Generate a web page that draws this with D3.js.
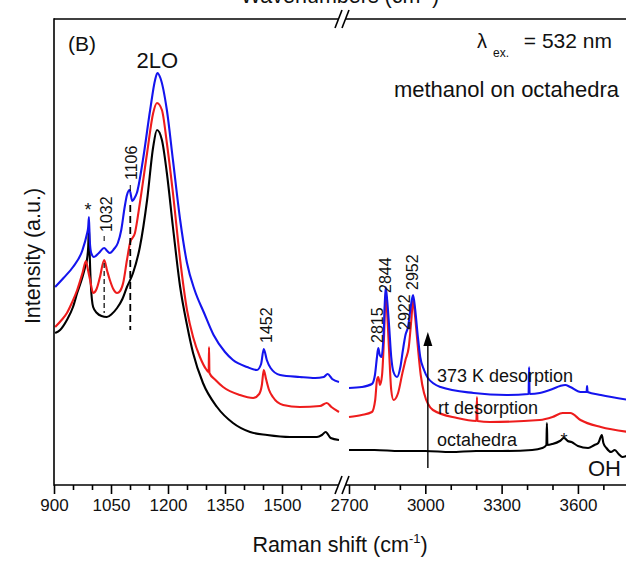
<!DOCTYPE html>
<html>
<head>
<meta charset="utf-8">
<script src="https://cdn.jsdelivr.net/npm/d3@7"></script>
<style>
  html, body { margin: 0; padding: 0; background: #fff; }
  svg { display: block; font-family: "Liberation Sans", Arial, Helvetica, sans-serif; }
</style>
</head>
<body>
<svg id="chart" width="626" height="561"></svg>
<script>
// ---- axis ticks (cm-1) ----
const lowTicks  = [900, 1050, 1200, 1350, 1500];
const lowMinor  = [950, 1000, 1100, 1150, 1250, 1300, 1400, 1450, 1550, 1600];
const highTicks = [2700, 3000, 3300, 3600];
const highMinor = [2800, 2900, 3100, 3200, 3400, 3500, 3700, 3800];

// ---- spectra: [Raman shift (cm-1), intensity (a.u.)] ----
// bare octahedra
const octahedraLow = [[903,152],[916,155],[934,165],[950,178],[961,192],[975,208],[982,218],[987,226],[990,238],[992,258],[994,230],[997,200],[1003,178],[1013,172],[1025,169],[1039,168],[1052,171],[1066,177],[1080,186],[1092,198],[1108,212],[1126,238],[1145,285],[1161,338],[1171,355],[1184,345],[1197,312],[1213,258],[1232,198],[1250,160],[1266,132],[1292,102],[1329,78],[1371,62],[1416,53],[1461,50],[1521,48],[1592,48],[1605,50],[1615,53],[1628,47],[1650,45]];
const octahedraHigh = [[2700,35],[2800,35],[2900,34],[3000,34],[3100,33],[3200,34],[3300,34],[3420,35],[3460,37],[3476,40],[3478,62],[3480,40],[3500,41],[3529,44],[3545,47],[3560,44],[3575,43],[3600,39],[3640,37],[3665,40],[3680,42],[3694,50],[3700,42],[3712,37],[3730,33],[3745,35],[3760,31],[3775,28],[3800,30]];

// methanol adsorbed, desorbed at room temperature
const rtLow = [[903,158],[920,165],[934,172],[948,183],[961,195],[975,212],[984,224],[990,214],[995,205],[1003,192],[1012,196],[1021,208],[1032,225],[1040,214],[1047,205],[1056,196],[1066,192],[1074,194],[1082,202],[1092,225],[1100,242],[1113,252],[1126,282],[1145,332],[1161,372],[1171,382],[1184,375],[1197,342],[1213,292],[1232,225],[1250,175],[1266,148],[1284,128],[1300,116],[1307,113],[1308,138],[1309,112],[1325,105],[1345,98],[1389,90],[1424,87],[1440,91],[1447,100],[1452,115],[1458,106],[1466,95],[1476,88],[1503,80],[1547,78],[1600,79],[1618,82],[1630,78],[1650,73]];
const rtHigh = [[2700,68],[2750,70],[2790,73],[2803,85],[2810,105],[2815,108],[2822,100],[2830,110],[2838,150],[2844,192],[2850,172],[2858,132],[2866,95],[2875,85],[2893,92],[2910,112],[2922,125],[2935,138],[2945,165],[2952,185],[2960,168],[2970,140],[2982,110],[2995,92],[3030,75],[3125,67],[3201,64],[3203,88],[3205,64],[3254,63],[3450,65],[3500,68],[3540,72],[3570,72],[3610,65],[3690,58],[3800,53]];

// methanol adsorbed, desorbed at 373 K
const k373Low = [[903,198],[925,207],[950,218],[975,235],[986,250],[990,258],[992,268],[994,245],[998,232],[1005,228],[1018,232],[1032,237],[1040,234],[1047,232],[1058,236],[1068,242],[1077,255],[1086,278],[1092,290],[1099,295],[1106,284],[1112,287],[1118,292],[1134,325],[1153,375],[1166,405],[1172,412],[1180,407],[1197,375],[1213,325],[1232,265],[1250,222],[1270,195],[1295,172],[1320,150],[1350,133],[1371,125],[1408,118],[1434,115],[1445,121],[1452,136],[1460,125],[1470,117],[1495,110],[1547,108],[1587,107],[1610,108],[1620,111],[1632,106],[1650,103]];
const k373High = [[2700,97],[2750,98],[2790,101],[2802,110],[2810,128],[2815,137],[2821,130],[2828,128],[2836,150],[2844,198],[2850,185],[2858,158],[2866,128],[2875,113],[2889,108],[2902,118],[2912,135],[2922,150],[2932,158],[2945,182],[2952,190],[2960,176],[2970,150],[2980,128],[2995,115],[3010,107],[3060,98],[3190,92],[3320,90],[3406,91],[3408,118],[3410,91],[3450,92],[3500,96],[3530,99],[3550,100],[3570,98],[3610,93],[3634,93],[3636,99],[3638,93],[3690,90],[3800,85]];

// ---- band labels ----
const lowBands  = ["1032", "1106", "1452"];
const highBands = ["2815", "2844", "2922", "2952"];
const seriesNames = ["373 K desorption", "rt desorption", "octahedra"];

// ---- layout ----
const svg = d3.select("#chart");
const plotLeft = 54, plotBottom = 485, plotTop = 19;
const breakL = 339, breakR = 346;

const xLow  = d3.scaleLinear().domain([900, 1650]).range([plotLeft, breakL]);
const xHigh = d3.scaleLinear().domain([2700, 3800]).range([349, 628.8]);
const y     = d3.scaleLinear().domain([0, 466]).range([plotBottom, plotTop]);

const defs = svg.append("defs");
defs.append("clipPath").attr("id", "clipLow")
  .append("rect").attr("x", plotLeft).attr("y", plotTop).attr("width", breakL - plotLeft + 1).attr("height", plotBottom - plotTop);
defs.append("clipPath").attr("id", "clipHigh")
  .append("rect").attr("x", breakR).attr("y", plotTop).attr("width", 700).attr("height", plotBottom - plotTop);

const lineLow  = d3.line().x(d => xLow(d[0])).y(d => y(d[1])).curve(d3.curveMonotoneX);
const lineHigh = d3.line().x(d => xHigh(d[0])).y(d => y(d[1])).curve(d3.curveMonotoneX);

const series = [
  { low: octahedraLow, high: octahedraHigh, color: "#000000" },
  { low: rtLow,        high: rtHigh,        color: "#ee1c1c" },
  { low: k373Low,      high: k373High,      color: "#1414ee" }
];

const gLow  = svg.append("g").attr("clip-path", "url(#clipLow)");
const gHigh = svg.append("g").attr("clip-path", "url(#clipHigh)");
series.forEach(s => {
  gLow.append("path").attr("d", lineLow(s.low))
    .attr("fill", "none").attr("stroke", s.color).attr("stroke-width", 2.1).attr("stroke-linejoin", "round");
  gHigh.append("path").attr("d", lineHigh(s.high))
    .attr("fill", "none").attr("stroke", s.color).attr("stroke-width", 2.1).attr("stroke-linejoin", "round");
});

// ---- frame and broken axes ----
const frame = svg.append("g").attr("stroke", "#000").attr("stroke-width", 1.6).attr("fill", "none");
frame.append("line").attr("x1", plotLeft).attr("x2", plotLeft).attr("y1", plotTop - 0.8).attr("y2", plotBottom + 0.8);
[plotTop, plotBottom].forEach(yy => {
  frame.append("line").attr("x1", plotLeft).attr("x2", breakL).attr("y1", yy).attr("y2", yy);
  frame.append("line").attr("x1", breakR).attr("x2", 640).attr("y1", yy).attr("y2", yy);
  // break marks
  frame.append("line").attr("x1", breakL - 4).attr("y1", yy + 9).attr("x2", breakL + 3).attr("y2", yy - 9);
  frame.append("line").attr("x1", breakR - 4).attr("y1", yy + 9).attr("x2", breakR + 3).attr("y2", yy - 9);
});

function drawAxis(scale, major, minor) {
  const gMaj = svg.append("g").attr("transform", `translate(0,${plotBottom})`)
    .call(d3.axisBottom(scale).tickValues(major).tickSize(9).tickPadding(5).tickFormat(d3.format("d")));
  gMaj.select(".domain").remove();
  gMaj.selectAll(".tick line").attr("stroke", "#000").attr("stroke-width", 1.6);
  gMaj.selectAll(".tick text").attr("font-size", 17).attr("font-family", "Liberation Sans, Arial, sans-serif").attr("fill", "#111");
  const gMin = svg.append("g").attr("transform", `translate(0,${plotBottom})`)
    .call(d3.axisBottom(scale).tickValues(minor).tickSize(5).tickFormat(""));
  gMin.select(".domain").remove();
  gMin.selectAll(".tick line").attr("stroke", "#000").attr("stroke-width", 1.6);
}
drawAxis(xLow, lowTicks, lowMinor);
drawAxis(xHigh, highTicks, highMinor);

// ---- axis titles ----
const xTitle = svg.append("text").attr("x", 340).attr("y", 552).attr("text-anchor", "middle")
  .attr("font-size", 21.5).attr("fill", "#111");
xTitle.append("tspan").text("Raman shift (cm");
xTitle.append("tspan").attr("font-size", 13).attr("dy", -9).text("-1");
xTitle.append("tspan").attr("dy", 9).text(")");

// upper-axis title, sitting mostly above the page edge
const topTitle = svg.append("text").attr("x", 340).attr("y", 3).attr("text-anchor", "middle")
  .attr("font-size", 21.5).attr("fill", "#111");
topTitle.append("tspan").text("Wavenumbers (cm");
topTitle.append("tspan").attr("font-size", 13).attr("dy", -9).text("-1");
topTitle.append("tspan").attr("dy", 9).text(")");

svg.append("text").attr("transform", "translate(40,256) rotate(-90)").attr("text-anchor", "middle")
  .attr("font-size", 21.5).attr("fill", "#111").text("Intensity (a.u.)");

// ---- panel annotations ----
svg.append("text").attr("x", 68).attr("y", 51).attr("font-size", 21).attr("fill", "#111").text("(B)");
svg.append("text").attr("x", xLow(1172)).attr("y", 68).attr("text-anchor", "middle").attr("font-size", 22).attr("fill", "#111").text("2LO");

svg.append("text").attr("x", 477).attr("y", 48).attr("font-size", 20).attr("fill", "#111").text("\u03bb");
svg.append("text").attr("x", 493).attr("y", 57).attr("font-size", 12).attr("fill", "#111").text("ex.");
svg.append("text").attr("x", 612).attr("y", 48).attr("text-anchor", "end").attr("font-size", 21).attr("fill", "#111").text("= 532 nm");
svg.append("text").attr("x", 619).attr("y", 97).attr("text-anchor", "end").attr("font-size", 22).attr("fill", "#111").text("methanol on octahedra");

// stars marking the sharp band and the broad O-H feature
svg.append("text").attr("x", xLow(992) - 1).attr("y", 216).attr("text-anchor", "middle").attr("font-size", 18).attr("fill", "#111").text("*");
svg.append("text").attr("x", xHigh(3545)).attr("y", 446).attr("text-anchor", "middle").attr("font-size", 18).attr("fill", "#111").text("*");
svg.append("text").attr("x", 588).attr("y", 476).attr("font-size", 22).attr("fill", "#111").text("OH");

// rotated band labels
function bandLabel(x, yBottom, text) {
  svg.append("text").attr("transform", `translate(${x},${yBottom}) rotate(-90)`)
    .attr("font-size", 16).attr("fill", "#111").text(text);
}
bandLabel(xLow(+lowBands[0]) + 8, 232, lowBands[0]);
bandLabel(xLow(+lowBands[1]) + 5, 180, lowBands[1]);
bandLabel(xLow(+lowBands[2]) + 8, 343, lowBands[2]);
bandLabel(xHigh(+highBands[0]) + 5, 343, highBands[0]);
bandLabel(xHigh(+highBands[1]) + 5, 293, highBands[1]);
bandLabel(xHigh(+highBands[2]) + 5, 330, highBands[2]);
bandLabel(xHigh(+highBands[3]) + 5, 290, highBands[3]);

// band markers
const marks = svg.append("g").attr("stroke", "#000").attr("fill", "none");
marks.append("line").attr("x1", xLow(1032)).attr("x2", xLow(1032)).attr("y1", y(222)).attr("y2", y(172))
  .attr("stroke-width", 1.2).attr("stroke-dasharray", "5,3");
marks.append("line").attr("x1", xLow(1032)).attr("x2", xLow(1032)).attr("y1", y(249)).attr("y2", y(244)).attr("stroke-width", 1);
marks.append("line").attr("x1", xLow(1106) - 2).attr("x2", xLow(1106) - 2).attr("y1", y(280)).attr("y2", y(155))
  .attr("stroke-width", 1.8).attr("stroke-dasharray", "7,4");
marks.append("line").attr("x1", xLow(1106) - 2).attr("x2", xLow(1106) - 2).attr("y1", y(300)).attr("y2", y(294)).attr("stroke-width", 1);

// arrow: increasing desorption temperature
marks.append("line").attr("x1", xHigh(3010)).attr("x2", xHigh(3010)).attr("y1", y(17)).attr("y2", y(142)).attr("stroke-width", 1.4);
svg.append("path")
  .attr("d", `M${xHigh(3010)},${y(153)} L${xHigh(3010) - 4.5},${y(139)} L${xHigh(3010) + 4.5},${y(139)} Z`)
  .attr("fill", "#000");

// series names
svg.append("text").attr("x", 437).attr("y", 382).attr("font-size", 18).attr("fill", "#111").text(seriesNames[0]);
svg.append("text").attr("x", 438).attr("y", 414).attr("font-size", 18).attr("fill", "#111").text(seriesNames[1]);
svg.append("text").attr("x", 437).attr("y", 446).attr("font-size", 18).attr("fill", "#111").text(seriesNames[2]);
</script>
</body>
</html>
